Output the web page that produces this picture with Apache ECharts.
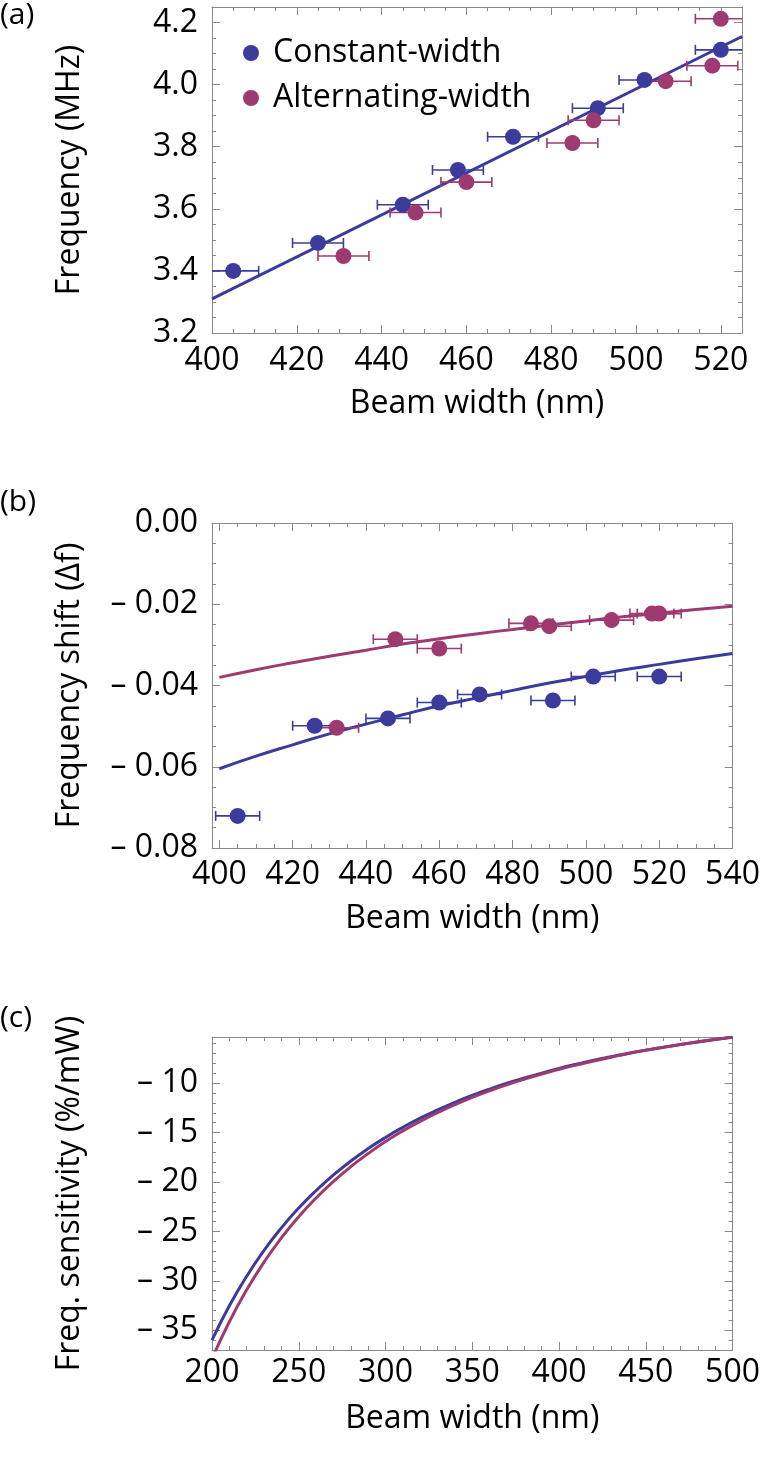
<!DOCTYPE html>
<html><head><meta charset="utf-8">
<script src="https://cdn.jsdelivr.net/npm/echarts@6/dist/echarts.min.js"></script>
<style>html,body{margin:0;padding:0;background:#fff}#c{width:763px;height:1465px}</style>
</head><body><div id="c"></div>
<script>
// ---------- Panel (a) data ----------
const aConstX = [405, 425, 445, 458, 471, 491, 502, 520];
const aConstY = [3.40, 3.49, 3.613, 3.725, 3.832, 3.924, 4.015, 4.112];
const aAltX = [431, 448, 460, 485, 490, 507, 518, 520];
const aAltY = [3.448, 3.588, 3.686, 3.812, 3.885, 4.011, 4.061, 4.212];
const aFitX = [400, 525];
const aFitY = [3.31, 4.155];
// ---------- Panel (b) data ----------
const bConstX = [405, 426, 446, 460, 471, 491, 502, 520];
const bConstY = [-0.0721, -0.0499, -0.0481, -0.0442, -0.0422, -0.0437, -0.0378, -0.0378];
const bAltX = [432, 448, 460, 485, 490, 507, 518, 520];
const bAltY = [-0.0504, -0.0286, -0.0309, -0.0247, -0.0254, -0.0239, -0.0223, -0.0223];
const bCurveX = [400, 410, 420, 430, 440, 450, 460, 470, 480, 490, 500, 510, 520, 530, 540];
const bConstCurve = [-0.0605, -0.0574, -0.0546, -0.0519, -0.0495, -0.0472, -0.0450, -0.0431, -0.0412, -0.0394, -0.0378, -0.0362, -0.0348, -0.0334, -0.0321];
const bAltCurve = [-0.0380, -0.0361, -0.0344, -0.0328, -0.0313, -0.0298, -0.0285, -0.0273, -0.0262, -0.0251, -0.0241, -0.0231, -0.0222, -0.0213, -0.0205];
// horizontal error bar half-width (nm)
const errX = 6;
// ---------- Panel (c) data ----------
const cX = [200, 210, 220, 230, 240, 250, 260, 270, 280, 290, 300, 310, 320, 330, 340, 350, 360, 370, 380, 390, 400, 410, 420, 430, 440, 450, 460, 470, 480, 490, 500];
const cConst = [-36.00, -32.53, -29.53, -26.92, -24.64, -22.63, -20.86, -19.29, -17.88, -16.62, -15.49, -14.47, -13.54, -12.71, -11.94, -11.24, -10.60, -10.01, -9.48, -8.98, -8.51, -8.09, -7.69, -7.33, -6.98, -6.66, -6.37, -6.09, -5.83, -5.58, -5.35];
const cAlt = [-37.90, -34.14, -30.91, -28.10, -25.65, -23.51, -21.62, -19.94, -18.45, -17.12, -15.91, -14.83, -13.86, -12.98, -12.18, -11.44, -10.77, -10.16, -9.60, -9.08, -8.60, -8.16, -7.75, -7.37, -7.01, -6.68, -6.38, -6.09, -5.82, -5.57, -5.33];
// ---------- Tick labels ----------
const aXTicks = [400, 420, 440, 460, 480, 500, 520];
const aYTicks = [3.2, 3.4, 3.6, 3.8, 4.0, 4.2];
const bXTicks = [400, 420, 440, 460, 480, 500, 520, 540];
const bYTicks = [-0.08, -0.06, -0.04, -0.02, 0];
const cXTicks = [200, 250, 300, 350, 400, 450, 500];
const cYTicks = [-35, -30, -25, -20, -15, -10];
const panelLabels = ['(a)', '(b)', '(c)'];

const names = ['Constant-width', 'Alternating-width'];
const BLUE = '#3b3b9c', MAG = '#9e3a6f';
const FONT = "Open Sans";
const FS = 32;
const FRAME = '#8a8a8a';

function range(a, b, s) { const r = []; for (let v = a; v <= b + 1e-9; v += s) r.push(Math.round(v * 10000) / 10000); return r; }

function axesFor(dim, grid, min, max, majors, minors, fmt, name, nameGap, labelMargin) {
  const p1 = dim === 'x' ? 'bottom' : 'left', p2 = dim === 'x' ? 'top' : 'right';
  const base = { type: 'value', gridIndex: grid, min: min, max: max, splitLine: { show: false } };
  const line = { show: true, onZero: false, lineStyle: { color: FRAME, width: 1 } };
  const noLine = { show: false, onZero: false };
  const tick = (vals, len) => ({ show: true, inside: true, length: len, customValues: vals, lineStyle: { color: FRAME, width: 1 } });
  return [
    Object.assign({}, base, {
      position: p1, axisLine: line, axisTick: tick(majors, 8),
      axisLabel: { show: true, customValues: majors, formatter: fmt, fontSize: FS, color: '#000', fontFamily: FONT, margin: labelMargin },
      name: name, nameLocation: 'middle', nameGap: nameGap,
      nameTextStyle: { fontSize: FS, color: '#000', fontFamily: FONT }
    }),
    Object.assign({}, base, { position: p1, axisLine: noLine, axisTick: tick(minors, 4), axisLabel: { show: false } }),
    Object.assign({}, base, { position: p2, axisLine: line, axisTick: tick(majors, 8), axisLabel: { show: false } }),
    Object.assign({}, base, { position: p2, axisLine: noLine, axisTick: tick(minors, 4), axisLabel: { show: false } })
  ];
}

const neg = (d) => (v) => v < 0 ? '\u2013 ' + Math.abs(v).toFixed(d) : v.toFixed(d);

const xAxis = [].concat(
  axesFor('x', 0, 400, 525, aXTicks, range(400, 525, 5), (v) => String(v), 'Beam width (nm)', 55, 12),
  axesFor('x', 1, 398, 540, bXTicks, range(400, 540, 5), (v) => String(v), 'Beam width (nm)', 55, 11),
  axesFor('x', 2, 200, 500, cXTicks, range(200, 500, 10), (v) => String(v), 'Beam width (nm)', 53, 7)
);
const yAxis = [].concat(
  axesFor('y', 0, 3.2, 4.25, aYTicks, range(3.2, 4.25, 0.05), (v) => v.toFixed(1), 'Frequency (MHz)', 126, 14),
  axesFor('y', 1, -0.08, 0, bYTicks, range(-0.08, 0, 0.005), neg(2), 'Frequency shift (\u0394f)', 126, 14),
  axesFor('y', 2, -37, -5.33, cYTicks, range(-37, -6, 1), neg(0), 'Freq. sensitivity (%/mW)', 126, 14)
);

function zip(xs, ys) { return xs.map((x, i) => [x, ys[i]]); }

function errSeries(name, xs, ys, color, ai) {
  return {
    type: 'custom', name: name, xAxisIndex: ai, yAxisIndex: ai, clip: true, z: 3, silent: true,
    data: zip(xs, ys),
    renderItem: function (params, api) {
      const x = api.value(0), y = api.value(1);
      const p1 = api.coord([x - errX, y]), p2 = api.coord([x + errX, y]);
      const h = 5, st = { stroke: color, lineWidth: 1.6 };
      return { type: 'group', children: [
        { type: 'line', shape: { x1: p1[0], y1: p1[1], x2: p2[0], y2: p2[1] }, style: st },
        { type: 'line', shape: { x1: p1[0], y1: p1[1] - h, x2: p1[0], y2: p1[1] + h }, style: st },
        { type: 'line', shape: { x1: p2[0], y1: p2[1] - h, x2: p2[0], y2: p2[1] + h }, style: st }
      ] };
    }
  };
}
function scat(name, xs, ys, color, ai) {
  return { type: 'scatter', name: name, xAxisIndex: ai, yAxisIndex: ai, data: zip(xs, ys),
    symbol: 'circle', symbolSize: 16, itemStyle: { color: color, opacity: 1 }, z: 4, silent: true };
}
function curve(name, xs, ys, color, ai, w) {
  return { type: 'line', name: name, xAxisIndex: ai, yAxisIndex: ai, data: zip(xs, ys),
    showSymbol: false, symbol: 'none', smooth: true, clip: true,
    lineStyle: { color: color, width: w }, z: 2, silent: true };
}

const series = [
  // (a)
  curve('fitA', aFitX, aFitY, BLUE, 0, 3),
  errSeries('errA1', aConstX, aConstY, BLUE, 0),
  errSeries('errA2', aAltX, aAltY, MAG, 0),
  scat(names[0], aConstX, aConstY, BLUE, 0),
  scat(names[1], aAltX, aAltY, MAG, 0),
  // (b)
  curve('fitB1', bCurveX, bConstCurve, BLUE, 4, 3),
  curve('fitB2', bCurveX, bAltCurve, MAG, 4, 3),
  errSeries('errB1', bConstX, bConstY, BLUE, 4),
  errSeries('errB2', bAltX, bAltY, MAG, 4),
  scat('b1', bConstX, bConstY, BLUE, 4),
  scat('b2', bAltX, bAltY, MAG, 4),
  // (c)
  curve('c1', cX, cConst, BLUE, 8, 3),
  curve('c2', cX, cAlt, MAG, 8, 3)
];

const labelTops = [0, 487, 1003];
const chart = echarts.init(document.getElementById('c'), null, { renderer: 'canvas' });
chart.setOption({
  animation: false,
  backgroundColor: '#fff',
  textStyle: { fontFamily: FONT },
  grid: [
    { left: 212, top: 7, width: 530, height: 326 },
    { left: 212, top: 523, width: 530, height: 325 },
    { left: 212, top: 1037, width: 530, height: 313 }
  ],
  xAxis: xAxis,
  yAxis: yAxis,
  legend: {
    data: names, orient: 'vertical', left: 238, top: 32, icon: 'circle',
    itemWidth: 34, itemHeight: 16, itemGap: 13, selectedMode: false,
    textStyle: { fontSize: FS, color: '#000', fontFamily: FONT, padding: [0, 0, 0, 0] }
  },
  graphic: panelLabels.map((t, i) => ({
    type: 'text', left: 0, top: labelTops[i],
    style: { text: t, fontSize: 30, fontFamily: FONT, fill: '#000' }
  })),
  series: series
});
</script></body></html>
